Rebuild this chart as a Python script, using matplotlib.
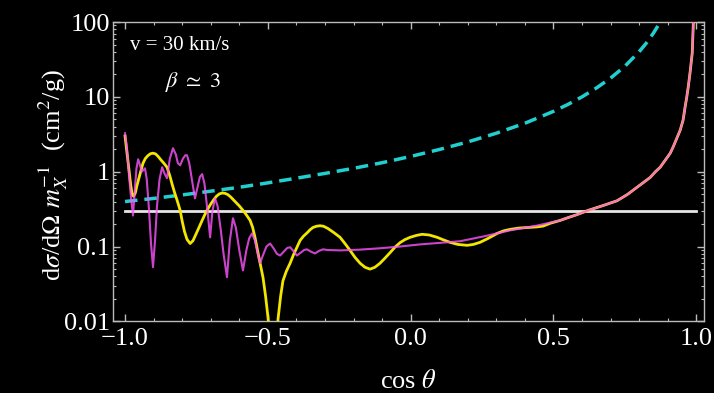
import matplotlib
matplotlib.use('Agg')
import matplotlib.pyplot as plt
from matplotlib.ticker import MultipleLocator, LogLocator, NullFormatter

plt.rcParams['font.family'] = ['Liberation Serif', 'DejaVu Serif']
plt.rcParams['mathtext.fontset'] = 'stix'

# Rutherford-like reference curve (cyan, dashed)
x_cyan = [-1.0, -0.9, -0.8, -0.7, -0.6, -0.5, -0.4, -0.3, -0.2, -0.1, 0.0, 0.1, 0.2, 0.3,
          0.4, 0.5, 0.55, 0.6, 0.65, 0.7, 0.75, 0.8, 0.83, 0.85, 0.87, 0.88]
y_cyan = [0.40, 0.44, 0.49, 0.55, 0.62, 0.71, 0.82, 0.95, 1.11, 1.32, 1.6, 1.98, 2.5, 3.27,
          4.44, 6.4, 7.9, 10.0, 13.1, 17.8, 25.6, 40.0, 55.0, 71.0, 94.0, 111.0]

# constant cross section (white)
x_const = [-1.0, 1.0]
y_const = [0.30, 0.30]

# forward peak shared by both partial-wave curves
x_tail = [0.55, 0.576, 0.6, 0.622, 0.65, 0.68, 0.723, 0.76, 0.793, 0.82, 0.839, 0.857,
          0.874, 0.89, 0.909, 0.919, 0.932, 0.944, 0.954, 0.961, 0.967, 0.972, 0.979,
          0.986, 0.990, 0.993]
y_tail = [0.243, 0.262, 0.283, 0.305, 0.33, 0.36, 0.41, 0.50, 0.62, 0.74, 0.84, 1.0,
          1.15, 1.4, 1.77, 2.13, 2.8, 3.6, 4.89, 7.3, 10.0, 13.5, 22.0,
          38.5, 100.0, 200.0]

# yellow curve
x_yel = [-1.000, -0.993, -0.986, -0.980, -0.975, -0.970, -0.964, -0.958, -0.950, -0.943,
         -0.937, -0.929, -0.920, -0.911, -0.902, -0.893, -0.884, -0.875, -0.864, -0.853,
         -0.843, -0.835, -0.826, -0.818, -0.807, -0.800, -0.792, -0.783, -0.772, -0.762,
         -0.752, -0.741, -0.730, -0.720, -0.713, -0.700, -0.690, -0.680, -0.670, -0.660,
         -0.650, -0.640, -0.630, -0.620, -0.610, -0.600, -0.587, -0.575, -0.562, -0.553,
         -0.545, -0.534, -0.525, -0.517, -0.508, -0.499, -0.490, -0.482, -0.473, -0.464,
         -0.455, -0.447, -0.435, -0.422, -0.410, -0.398, -0.387, -0.375, -0.363, -0.352,
         -0.342, -0.330, -0.317, -0.305, -0.290, -0.270, -0.247, -0.230, -0.212, -0.195,
         -0.177, -0.160, -0.142, -0.125, -0.107, -0.090, -0.072, -0.055, -0.037, -0.020,
         -0.002, 0.020, 0.040, 0.065, 0.093, 0.115, 0.138, 0.165, 0.198, 0.220,
         0.243, 0.270, 0.303, 0.325, 0.349, 0.380, 0.408, 0.440, 0.464, 0.489, 0.524]
y_yel = [3.0, 1.8, 1.05, 0.66, 0.50, 0.47, 0.52, 0.66, 0.86, 1.08,
         1.30, 1.50, 1.64, 1.74, 1.77, 1.73, 1.60, 1.45, 1.30, 1.15,
         0.88, 0.68, 0.52, 0.42, 0.305, 0.22, 0.16, 0.125, 0.11, 0.12,
         0.145, 0.18, 0.224, 0.27, 0.305, 0.37, 0.42, 0.47, 0.505, 0.52,
         0.515, 0.495, 0.46, 0.42, 0.385, 0.35, 0.305, 0.265, 0.224, 0.18,
         0.133, 0.081, 0.055, 0.039, 0.022, 0.011, 0.0045, 0.002, 0.0045, 0.011,
         0.022, 0.035, 0.047, 0.06, 0.078, 0.098, 0.121, 0.138, 0.152, 0.168,
         0.18, 0.187, 0.19, 0.187, 0.175, 0.155, 0.133, 0.11, 0.089, 0.072,
         0.06, 0.053, 0.050, 0.053, 0.06, 0.07, 0.083, 0.098, 0.113, 0.124,
         0.133, 0.141, 0.146, 0.143, 0.133, 0.123, 0.114, 0.107, 0.104, 0.107,
         0.114, 0.128, 0.150, 0.162, 0.170, 0.177, 0.180, 0.183, 0.188, 0.205, 0.224]

# magenta curve
x_mag = [-1.000, -0.993, -0.986, -0.979, -0.972, -0.966, -0.960, -0.954, -0.948, -0.942,
         -0.936, -0.930, -0.924, -0.916, -0.909, -0.902, -0.895, -0.888, -0.879, -0.870,
         -0.862, -0.853, -0.843, -0.832, -0.822, -0.815, -0.807, -0.797, -0.789, -0.783,
         -0.775, -0.765, -0.755, -0.745, -0.738, -0.730, -0.722, -0.712, -0.702, -0.694,
         -0.685, -0.676, -0.665, -0.655, -0.643, -0.633, -0.622, -0.612, -0.600, -0.587,
         -0.575, -0.565, -0.555, -0.545, -0.535, -0.527, -0.518, -0.505, -0.492, -0.480,
         -0.468, -0.457, -0.445, -0.432, -0.422, -0.410, -0.398, -0.385, -0.373, -0.363,
         -0.350, -0.335, -0.320, -0.306, -0.290, -0.247, -0.180, -0.107, -0.040, 0.033,
         0.100, 0.173, 0.260, 0.349, 0.440, 0.524]
y_mag = [3.27, 2.0, 0.9, 0.45, 0.26, 0.55, 1.1, 1.47, 1.25, 1.0,
         1.05, 1.11, 0.8, 0.31, 0.11, 0.053, 0.12, 0.35, 0.8, 1.15,
         0.95, 0.82, 1.5, 2.06, 1.7, 1.3, 1.22, 1.5, 1.66, 1.66,
         1.3, 0.75, 0.44, 0.65, 0.85, 0.93, 0.7, 0.32, 0.133, 0.3,
         0.44, 0.35, 0.17, 0.08, 0.039, 0.12, 0.239, 0.18, 0.09, 0.048,
         0.09, 0.13, 0.150, 0.12, 0.08, 0.060, 0.075, 0.10, 0.110, 0.095,
         0.08, 0.076, 0.085, 0.096, 0.098, 0.087, 0.076, 0.083, 0.090, 0.092,
         0.086, 0.081, 0.088, 0.092, 0.090, 0.089, 0.091, 0.095, 0.100, 0.107,
         0.112, 0.118, 0.138, 0.165, 0.190, 0.224]

x_ticks = [-1.0, -0.5, 0.0, 0.5, 1.0]
x_ticklabels = ['\u22121.0', '\u22120.5', '0.0', '0.5', '1.0']
y_ticks = [0.01, 0.1, 1, 10, 100]
y_ticklabels = ['0.01', '0.1', '1', '10', '100']

fig = plt.figure(figsize=(7.14, 3.93), dpi=100, facecolor='black')
ax = fig.add_axes([0.1583, 0.182, 0.828, 0.762], facecolor='black')

ax.plot(x_const, y_const, color='#E6E6E6', lw=2.0, zorder=2)
ax.plot(x_cyan, y_cyan, color='#22CFCF', lw=2.5, dashes=(3.6, 2.0), zorder=3)
ax.plot(x_yel + x_tail, y_yel + y_tail, color='#F2E600', lw=2.0, zorder=4)
ax.plot(x_mag + x_tail, y_mag + y_tail, color='#FF55FF', lw=1.5, alpha=0.8, zorder=5)

ax.set_yscale('log')
ax.set_xlim(-1.042, 1.028)
ax.set_ylim(0.01, 100)

ax.set_xticks(x_ticks)
ax.set_xticklabels(x_ticklabels)
ax.xaxis.set_minor_locator(MultipleLocator(0.1))
ax.set_yticks(y_ticks)
ax.set_yticklabels(y_ticklabels)
ax.yaxis.set_minor_locator(LogLocator(base=10, subs=range(2, 10)))
ax.yaxis.set_minor_formatter(NullFormatter())

ax.tick_params(which='both', direction='in', top=True, right=True, colors='#BBBBBB',
               labelcolor='white', labelsize=19)
ax.tick_params(which='major', length=5, width=1)
ax.tick_params(which='minor', length=2.5, width=0.8)
ax.tick_params(axis='x', pad=5)
ax.tick_params(axis='y', pad=2)
for s in ax.spines.values():
    s.set_color('#BBBBBB')
    s.set_linewidth(1.0)

ax.set_xlabel(r'cos $\theta$', color='white', fontsize=19, labelpad=14)
ax.set_ylabel(r'd$\sigma$/d$\Omega$ $m_X^{-1}$  (cm$^2$/g)', color='white', fontsize=19)
ax.yaxis.set_label_coords(-0.073, 0.49)

ax.text(0.029, 0.923, 'v = 30 km/s', transform=ax.transAxes, color='white',
        fontsize=15, va='center', ha='left')
ax.text(0.088, 0.80, r'$\beta\ \simeq\ 3$', transform=ax.transAxes, color='white',
        fontsize=16, va='center', ha='left')

fig.savefig('out.png', dpi=100, facecolor='black')
